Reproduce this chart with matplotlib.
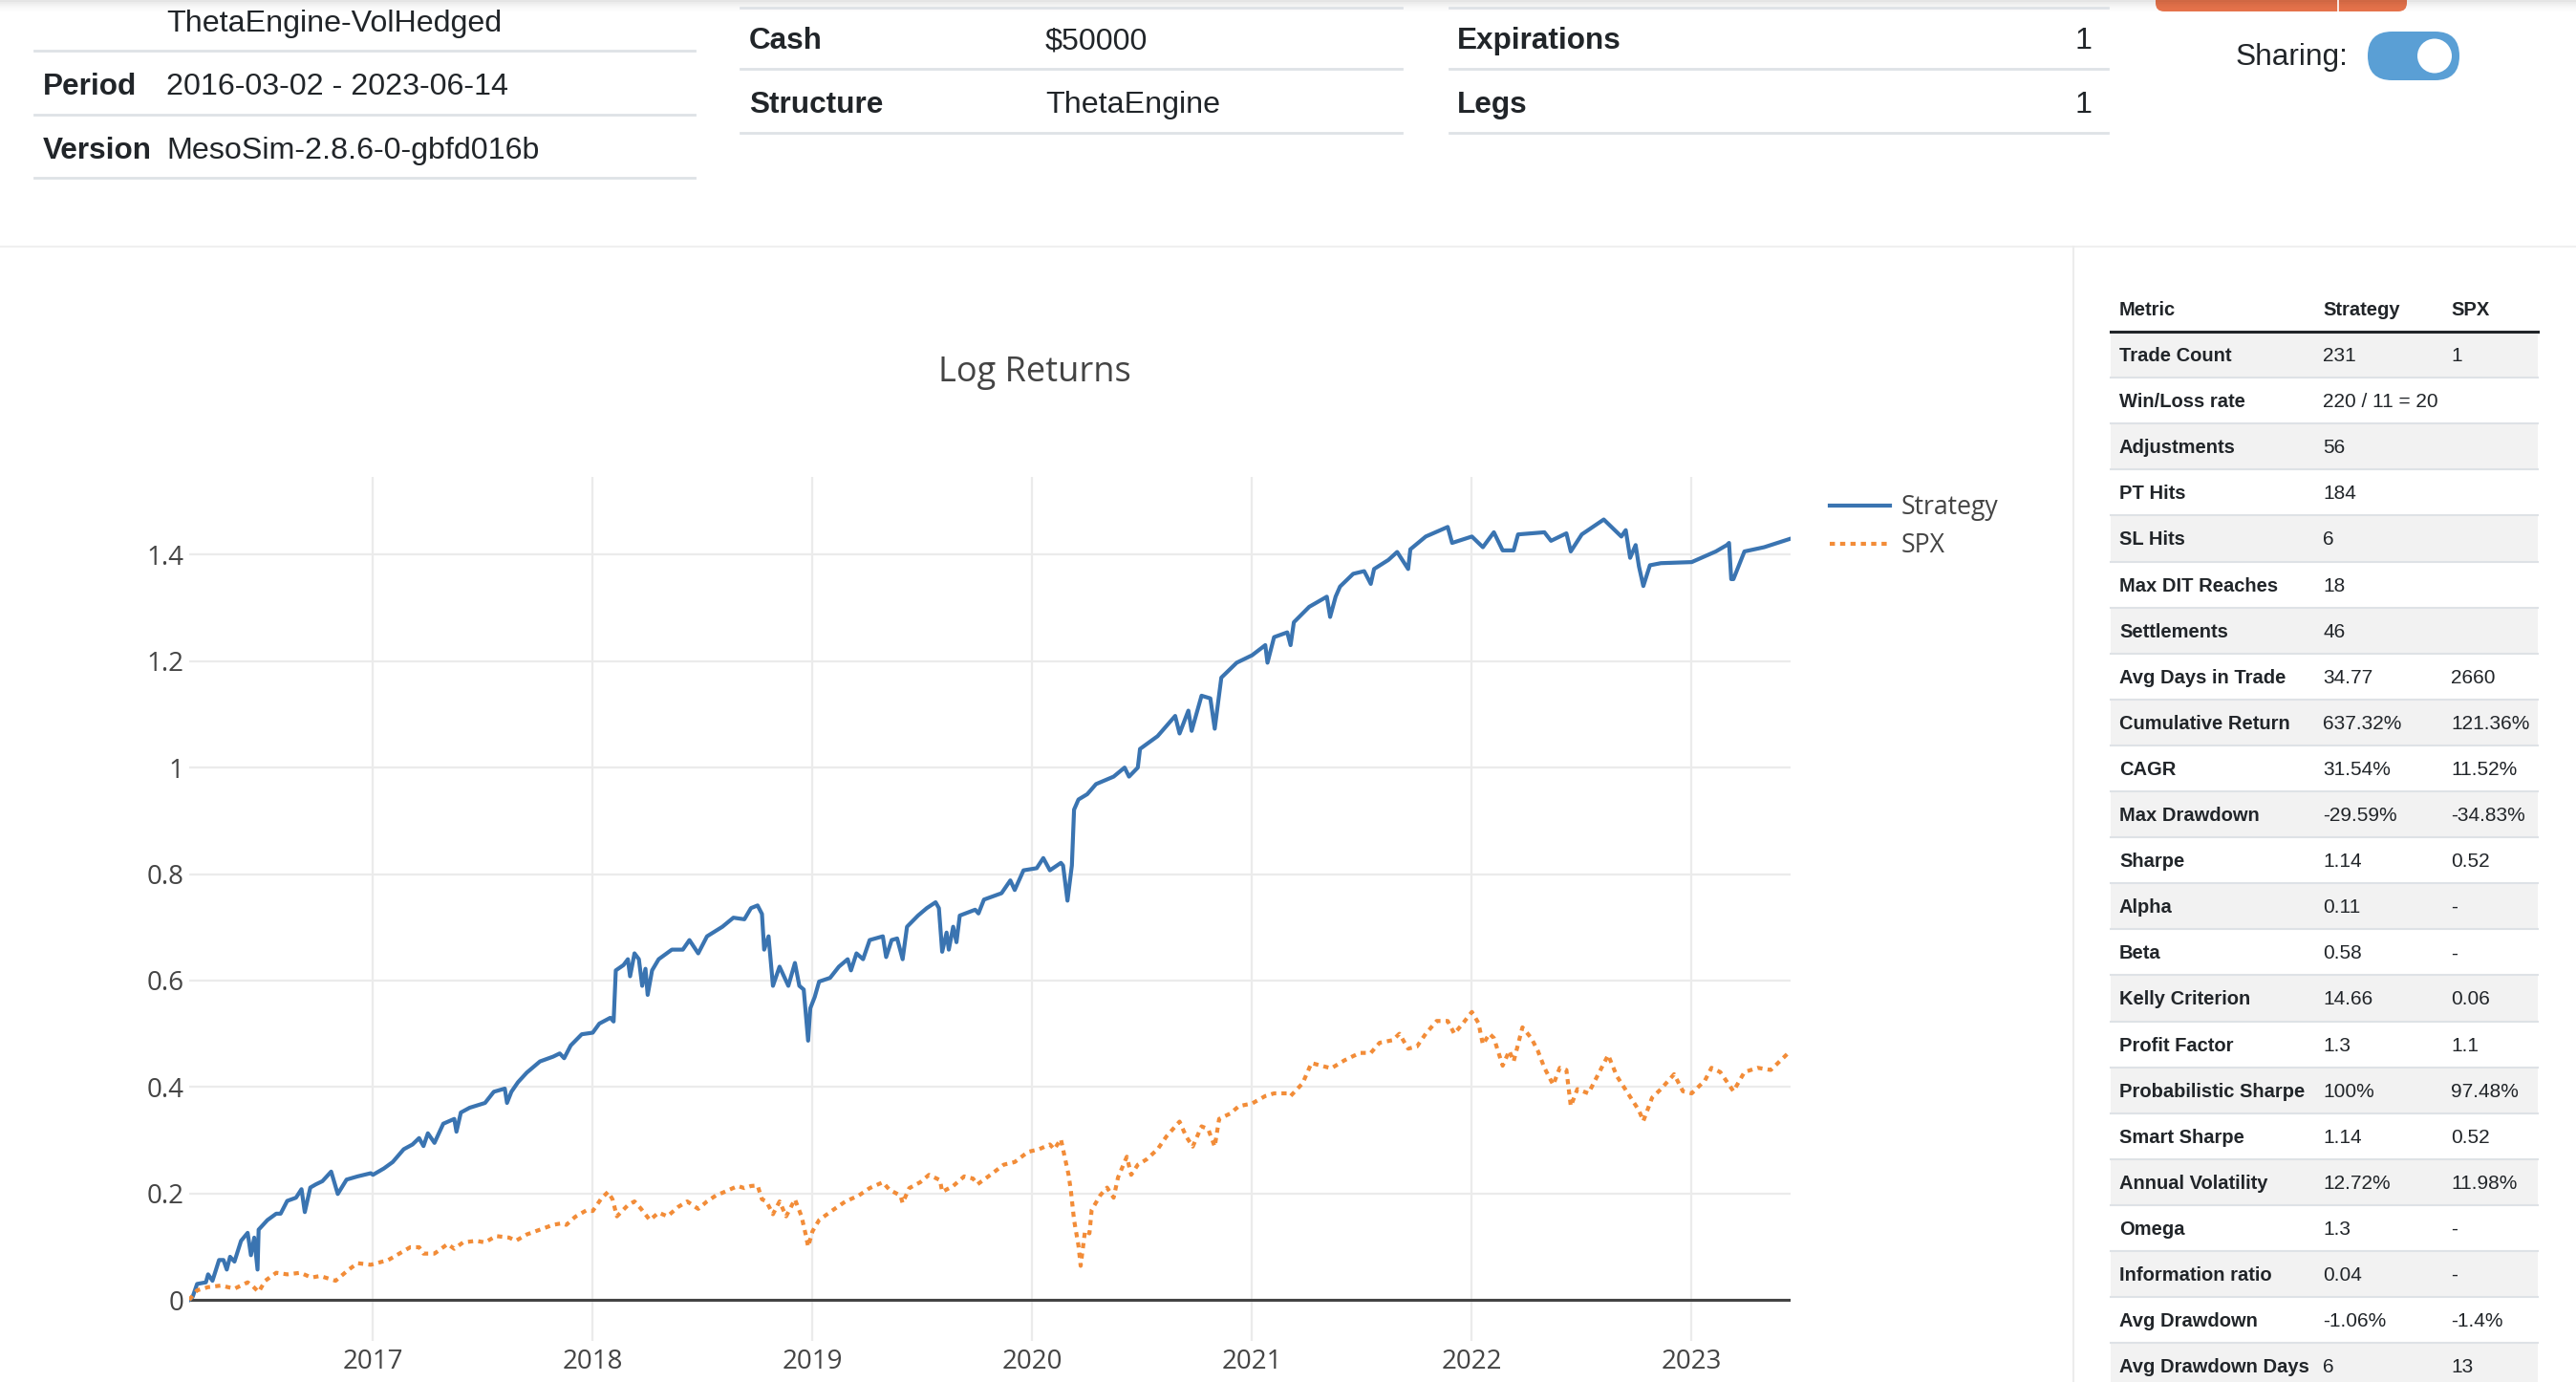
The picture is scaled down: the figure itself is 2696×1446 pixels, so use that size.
import matplotlib
matplotlib.use('Agg')
import matplotlib.pyplot as plt
from matplotlib.patches import Rectangle, FancyBboxPatch, Circle
from matplotlib.ticker import FuncFormatter

W, H = 2696, 1446
DPI = 100

# ---- chart data (decimal years, log return) ----
strat_t = [2016.164, 2016.18, 2016.20, 2016.24, 2016.25, 2016.27, 2016.30, 2016.32, 2016.335, 2016.35,
           2016.37, 2016.40, 2016.43, 2016.445, 2016.46, 2016.475, 2016.48, 2016.52, 2016.56, 2016.58,
           2016.61, 2016.65, 2016.675, 2016.69, 2016.715, 2016.74, 2016.77, 2016.81, 2016.84, 2016.88,
           2016.93, 2016.99, 2017.00, 2017.05, 2017.09, 2017.14, 2017.18, 2017.21, 2017.23, 2017.25,
           2017.28, 2017.32, 2017.37, 2017.38, 2017.40, 2017.44, 2017.51, 2017.55, 2017.60, 2017.61,
           2017.63, 2017.66, 2017.70, 2017.76, 2017.82, 2017.85, 2017.87, 2017.90, 2017.95, 2018.00,
           2018.03, 2018.08, 2018.095, 2018.105, 2018.14, 2018.16, 2018.17, 2018.19, 2018.21, 2018.225,
           2018.24, 2018.25, 2018.27, 2018.30, 2018.36, 2018.41, 2018.44, 2018.48, 2018.52, 2018.59,
           2018.64, 2018.69, 2018.72, 2018.75, 2018.77, 2018.78, 2018.80, 2018.82, 2018.85, 2018.89,
           2018.92, 2018.94, 2018.96, 2018.98, 2018.99, 2019.01, 2019.03, 2019.08, 2019.12, 2019.16,
           2019.175, 2019.20, 2019.23, 2019.26, 2019.32, 2019.335, 2019.36, 2019.385, 2019.41, 2019.43,
           2019.48, 2019.52, 2019.56, 2019.575, 2019.59, 2019.61, 2019.62, 2019.64, 2019.655, 2019.67,
           2019.74, 2019.755, 2019.78, 2019.86, 2019.90, 2019.92, 2019.96, 2020.02, 2020.05, 2020.08,
           2020.13, 2020.14, 2020.16, 2020.18, 2020.19, 2020.21, 2020.25, 2020.29, 2020.37, 2020.42,
           2020.44, 2020.48, 2020.49, 2020.57, 2020.65, 2020.67, 2020.71, 2020.725, 2020.77, 2020.81,
           2020.83, 2020.86, 2020.93, 2021.00, 2021.06, 2021.07, 2021.10, 2021.16, 2021.175, 2021.19,
           2021.26, 2021.34, 2021.355, 2021.38, 2021.40, 2021.46, 2021.51, 2021.54, 2021.555, 2021.62,
           2021.66, 2021.71, 2021.72, 2021.79, 2021.89, 2021.91, 2022.00, 2022.05, 2022.10, 2022.14,
           2022.19, 2022.21, 2022.33, 2022.36, 2022.43, 2022.45, 2022.50, 2022.60, 2022.68, 2022.70,
           2022.72, 2022.745, 2022.76, 2022.78, 2022.81, 2022.86, 2023.00, 2023.11, 2023.16, 2023.17,
           2023.18, 2023.19, 2023.24, 2023.33, 2023.45]
strat_v = [0.0, 0.006, 0.030, 0.033, 0.048, 0.036, 0.075, 0.075, 0.057, 0.081,
           0.072, 0.111, 0.126, 0.084, 0.117, 0.057, 0.132, 0.150, 0.162, 0.162,
           0.186, 0.192, 0.208, 0.165, 0.211, 0.217, 0.223, 0.241, 0.199, 0.226,
           0.232, 0.238, 0.235, 0.247, 0.259, 0.283, 0.292, 0.304, 0.289, 0.313,
           0.295, 0.331, 0.340, 0.316, 0.352, 0.361, 0.370, 0.391, 0.397, 0.370,
           0.391, 0.409, 0.427, 0.448, 0.457, 0.463, 0.454, 0.478, 0.499, 0.502,
           0.519, 0.530, 0.523, 0.619, 0.629, 0.640, 0.608, 0.651, 0.640, 0.590,
           0.622, 0.573, 0.619, 0.640, 0.658, 0.658, 0.676, 0.651, 0.683, 0.701,
           0.718, 0.715, 0.736, 0.741, 0.725, 0.658, 0.683, 0.590, 0.626, 0.590,
           0.633, 0.590, 0.583, 0.487, 0.548, 0.569, 0.598, 0.605, 0.626, 0.640,
           0.619, 0.651, 0.640, 0.676, 0.683, 0.644, 0.676, 0.679, 0.640, 0.701,
           0.722, 0.736, 0.747, 0.736, 0.654, 0.690, 0.658, 0.701, 0.672, 0.722,
           0.733, 0.726, 0.752, 0.764, 0.788, 0.770, 0.807, 0.811, 0.830, 0.807,
           0.821, 0.816, 0.750, 0.816, 0.921, 0.940, 0.950, 0.969, 0.983, 1.000,
           0.983, 1.000, 1.035, 1.059, 1.097, 1.064, 1.107, 1.069, 1.135, 1.130,
           1.073, 1.169, 1.197, 1.211, 1.230, 1.197, 1.245, 1.254, 1.230, 1.273,
           1.302, 1.321, 1.283, 1.321, 1.340, 1.364, 1.369, 1.345, 1.373, 1.390,
           1.405, 1.373, 1.410, 1.434, 1.452, 1.422, 1.434, 1.414, 1.442, 1.408,
           1.408, 1.438, 1.442, 1.426, 1.440, 1.406, 1.438, 1.466, 1.434, 1.446,
           1.394, 1.418, 1.378, 1.341, 1.380, 1.384, 1.386, 1.406, 1.418, 1.422,
           1.354, 1.354, 1.406, 1.414, 1.430]

spx_t = [2016.164, 2016.20, 2016.25, 2016.31, 2016.37, 2016.43, 2016.45, 2016.48, 2016.51, 2016.56,
         2016.61, 2016.67, 2016.72, 2016.76, 2016.83, 2016.89, 2016.93, 2016.99, 2017.07, 2017.12,
         2017.17, 2017.21, 2017.23, 2017.28, 2017.34, 2017.37, 2017.41, 2017.47, 2017.51, 2017.56,
         2017.62, 2017.65, 2017.70, 2017.78, 2017.82, 2017.86, 2017.88, 2017.92, 2017.97, 2018.00,
         2018.04, 2018.07, 2018.09, 2018.11, 2018.16, 2018.19, 2018.22, 2018.26, 2018.30, 2018.34,
         2018.39, 2018.43, 2018.48, 2018.52, 2018.56, 2018.60, 2018.66, 2018.69, 2018.72, 2018.75,
         2018.77, 2018.79, 2018.82, 2018.85, 2018.88, 2018.92, 2018.95, 2018.97, 2018.98, 2019.00,
         2019.03, 2019.09, 2019.15, 2019.21, 2019.26, 2019.32, 2019.35, 2019.40, 2019.41, 2019.44,
         2019.49, 2019.53, 2019.58, 2019.59, 2019.64, 2019.69, 2019.73, 2019.75, 2019.80, 2019.87,
         2019.92, 2019.98, 2020.03, 2020.08, 2020.10, 2020.13, 2020.15, 2020.165, 2020.175, 2020.19,
         2020.21, 2020.22, 2020.24, 2020.26, 2020.27, 2020.31, 2020.34, 2020.37, 2020.39, 2020.43,
         2020.45, 2020.48, 2020.52, 2020.57, 2020.61, 2020.67, 2020.70, 2020.73, 2020.77, 2020.80,
         2020.83, 2020.85, 2020.90, 2020.94, 2021.00, 2021.06, 2021.10, 2021.16, 2021.175, 2021.23,
         2021.27, 2021.36, 2021.42, 2021.49, 2021.54, 2021.58, 2021.64, 2021.67, 2021.71, 2021.75,
         2021.79, 2021.84, 2021.89, 2021.92, 2021.96, 2022.00, 2022.03, 2022.05, 2022.08, 2022.10,
         2022.14, 2022.17, 2022.19, 2022.23, 2022.27, 2022.30, 2022.33, 2022.37, 2022.40, 2022.43,
         2022.45, 2022.48, 2022.53, 2022.56, 2022.62, 2022.66, 2022.71, 2022.76, 2022.78, 2022.82,
         2022.86, 2022.92, 2022.96, 2023.00, 2023.06, 2023.09, 2023.13, 2023.19, 2023.24, 2023.30,
         2023.36, 2023.40, 2023.45]
spx_v = [0.0, 0.018, 0.024, 0.027, 0.021, 0.033, 0.027, 0.015, 0.036, 0.051,
         0.048, 0.051, 0.042, 0.045, 0.036, 0.057, 0.069, 0.066, 0.075, 0.087,
         0.099, 0.099, 0.087, 0.087, 0.105, 0.096, 0.108, 0.111, 0.108, 0.120,
         0.117, 0.111, 0.123, 0.135, 0.141, 0.144, 0.141, 0.156, 0.168, 0.167,
         0.191, 0.203, 0.189, 0.157, 0.178, 0.185, 0.171, 0.150, 0.164, 0.157,
         0.175, 0.185, 0.171, 0.185, 0.196, 0.203, 0.214, 0.210, 0.214, 0.215,
         0.189, 0.185, 0.161, 0.185, 0.157, 0.189, 0.157, 0.121, 0.100, 0.129,
         0.150, 0.168, 0.185, 0.196, 0.210, 0.221, 0.207, 0.196, 0.182, 0.210,
         0.221, 0.235, 0.225, 0.203, 0.214, 0.232, 0.228, 0.217, 0.232, 0.254,
         0.259, 0.278, 0.283, 0.292, 0.283, 0.302, 0.264, 0.235, 0.207, 0.150,
         0.102, 0.064, 0.130, 0.125, 0.169, 0.197, 0.211, 0.192, 0.230, 0.269,
         0.235, 0.254, 0.264, 0.283, 0.307, 0.335, 0.307, 0.288, 0.326, 0.321,
         0.288, 0.340, 0.350, 0.364, 0.369, 0.383, 0.388, 0.388, 0.383, 0.407,
         0.445, 0.435, 0.450, 0.464, 0.464, 0.483, 0.488, 0.500, 0.472, 0.476,
         0.500, 0.524, 0.524, 0.500, 0.520, 0.541, 0.520, 0.480, 0.500, 0.492,
         0.440, 0.468, 0.448, 0.512, 0.492, 0.468, 0.436, 0.404, 0.436, 0.432,
         0.364, 0.396, 0.388, 0.412, 0.460, 0.420, 0.388, 0.356, 0.336, 0.380,
         0.396, 0.424, 0.392, 0.388, 0.412, 0.436, 0.428, 0.392, 0.428, 0.436,
         0.432, 0.448, 0.468]

year_ticks = [2017, 2018, 2019, 2020, 2021, 2022, 2023]
y_ticks = [0, 0.2, 0.4, 0.6, 0.8, 1.0, 1.2, 1.4]

# ---- page header ----
col1_keys = ['', 'Period', 'Version']
col1_vals = ['ThetaEngine-VolHedged', '2016-03-02 - 2023-06-14', 'MesoSim-2.8.6-0-gbfd016b']
col2_keys = ['Cash', 'Structure']
col2_vals = ['$50000', 'ThetaEngine']
col3_keys = ['Expirations', 'Legs']
col3_vals = ['1', '1']

# ---- metrics table ----
tbl_head = ['Metric', 'Strategy', 'SPX']
metrics = ['Trade Count', 'Win/Loss rate', 'Adjustments', 'PT Hits', 'SL Hits', 'Max DIT Reaches',
           'Settlements', 'Avg Days in Trade', 'Cumulative Return', 'CAGR', 'Max Drawdown', 'Sharpe',
           'Alpha', 'Beta', 'Kelly Criterion', 'Profit Factor', 'Probabilistic Sharpe', 'Smart Sharpe',
           'Annual Volatility', 'Omega', 'Information ratio', 'Avg Drawdown', 'Avg Drawdown Days']
strat_col = ['231', '220 / 11 = 20', '56', '184', '6', '18', '46', '34.77', '637.32%', '31.54%',
             '-29.59%', '1.14', '0.11', '0.58', '14.66', '1.3', '100%', '1.14', '12.72%', '1.3',
             '0.04', '-1.06%', '6']
spx_col = ['1', '', '', '', '', '', '', '2660', '121.36%', '11.52%', '-34.83%', '0.52', '-', '-',
           '0.06', '1.1', '97.48%', '0.52', '11.98%', '-', '-', '-1.4%', '13']

PAGE_FONT = 'Liberation Sans'
CHART_FONT = 'Open Sans'
TXT = '#212529'
LINE = '#dee2e6'
HB, HR = 22.7, 23.2      # header bold / regular sizes
TB, TR = 14.5, 15        # table bold / regular sizes

fig = plt.figure(figsize=(W / DPI, H / DPI), dpi=DPI)
fig.patch.set_facecolor('white')

# overlay axes in pixel coordinates for the page furniture
page = fig.add_axes([0, 0, 1, 1])
page.set_xlim(0, W)
page.set_ylim(H, 0)
page.axis('off')

# top shadow
for k, a in enumerate([0.10, 0.07, 0.05, 0.03, 0.02, 0.01]):
    page.plot([0, W], [k * 2 + 1, k * 2 + 1], color='#000000', alpha=a, lw=1.5)

# column 1
for y in [53, 120, 186]:
    page.plot([36, 727], [y, y], color=LINE, lw=2)
for y, k, v in zip([25, 91, 158], col1_keys, col1_vals):
    page.text(45, y, k, fontsize=HB, fontweight='bold', family=PAGE_FONT, color=TXT, va='center')
    page.text(174, y, v, fontsize=HR, family=PAGE_FONT, color=TXT, va='center')

# column 2 and 3
for y in [8, 72, 139]:
    page.plot([775, 1467], [y, y], color=LINE, lw=2)
    page.plot([1517, 2206], [y, y], color=LINE, lw=2)
for y, k, v in zip([43, 110], col2_keys, col2_vals):
    page.text(784, y, k, fontsize=HB, fontweight='bold', family=PAGE_FONT, color=TXT, va='center')
    page.text(1094, y, v, fontsize=HR, family=PAGE_FONT, color=TXT, va='center')
for y, k, v in zip([43, 110], col3_keys, col3_vals):
    page.text(1525, y, k, fontsize=HB, fontweight='bold', family=PAGE_FONT, color=TXT, va='center')
    page.text(2189, y, v, fontsize=HR, family=PAGE_FONT, color=TXT, va='center', ha='right')

# orange button peeking at top, sharing toggle
page.add_patch(FancyBboxPatch((2256, -30), 263, 42, boxstyle='round,pad=0,rounding_size=9',
                              fc='#e8744c', ec='none'))
page.plot([2447, 2447], [0, 12], color='white', lw=1.2)
page.text(2457, 60, 'Sharing:', fontsize=22.8, family=PAGE_FONT, color=TXT, va='center', ha='right')
page.add_patch(FancyBboxPatch((2478, 33), 96, 51, boxstyle='round,pad=0,rounding_size=25.5',
                              fc='#5a9fd5', ec='none'))
page.add_patch(Circle((2548, 58.5), 18, fc='white', ec='none'))

# section separators
page.plot([0, W], [258, 258], color='#f0f0f0', lw=1.5)
page.plot([2170, 2170], [258, H], color='#ececec', lw=1.5)

# metrics table
tx0, tx1 = 2209, 2656
cx = [2218, 2431, 2565]
row_top, row_h = 347, 48.1
for x, h in zip(cx, tbl_head):
    page.text(x, 325, h, fontsize=TB, fontweight='bold', family=PAGE_FONT, color=TXT, va='center')
for i, (m, s, p) in enumerate(zip(metrics, strat_col, spx_col)):
    y0 = row_top + i * row_h
    if i % 2 == 0:
        page.add_patch(Rectangle((tx0, y0), tx1 - tx0, row_h, fc='#f2f2f2', ec='none'))
    page.plot([tx0, tx1], [y0 + row_h, y0 + row_h], color=LINE, lw=1.5)
    yc = y0 + row_h / 2 + 1.5
    page.text(cx[0], yc, m, fontsize=TB, fontweight='bold', family=PAGE_FONT, color=TXT, va='center')
    page.text(cx[1], yc, s, fontsize=TR, family=PAGE_FONT, color=TXT, va='center')
    page.text(cx[2], yc, p, fontsize=TR, family=PAGE_FONT, color=TXT, va='center')
page.plot([tx0, tx1], [row_top, row_top], color='#212529', lw=2.2)

# ---- the chart ----
ax = fig.add_axes([198 / W, 1 - 1403 / H, (1874 - 198) / W, (1403 - 499) / H])
ax.patch.set_alpha(0)
ax.plot(strat_t, strat_v, color='#3a74b1', lw=3.0, label='Strategy', solid_joinstyle='round')
ax.plot(spx_t, spx_v, color='#f28c38', lw=3.0, ls=(0, (1.3, 1.3)), label='SPX')
ax.axhline(0, color='#444444', lw=2.2, zorder=1.5)

ax.set_xlim(strat_t[0], strat_t[-1])
ax.set_ylim(-0.077, 1.546)
ax.set_xticks(year_ticks)
ax.set_xticklabels([str(y) for y in year_ticks])
ax.set_yticks(y_ticks)
ax.yaxis.set_major_formatter(FuncFormatter(lambda v, p: f'{v:g}'))
ax.grid(True, color='#ebebeb', lw=1.6)
ax.set_axisbelow(True)
for s in ax.spines.values():
    s.set_visible(False)
ax.tick_params(length=0, labelsize=20, labelcolor='#444444', pad=4)
for lab in ax.get_xticklabels() + ax.get_yticklabels():
    lab.set_family(CHART_FONT)
ax.tick_params(axis='x', pad=6)

fig.text(1083 / W, 1 - 390 / H, 'Log Returns', fontsize=26, family=CHART_FONT, color='#444444',
         ha='center', va='center')

ax.legend(loc='upper left', bbox_to_anchor=(1915 / W, 1 - 517 / H), bbox_transform=fig.transFigure,
          frameon=False, prop={'family': CHART_FONT, 'size': 19.2}, labelcolor='#444444',
          handlelength=2.35, handletextpad=0.45, labelspacing=0.46, borderpad=0, borderaxespad=0)

fig.savefig('out.png', dpi=DPI)
